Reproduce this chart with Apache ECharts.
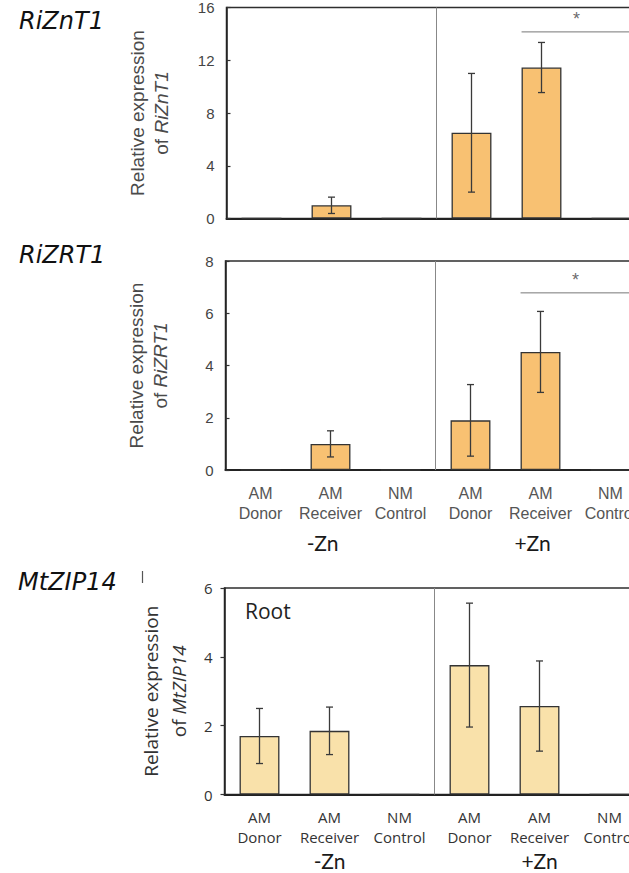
<!DOCTYPE html>
<html>
<head>
<meta charset="utf-8">
<script src="https://cdn.jsdelivr.net/npm/echarts@6/dist/echarts.min.js"></script>
<style>
  html, body { margin: 0; padding: 0; overflow: hidden; background: #fff; }
  #chart { width: 700px; height: 873px; }
</style>
</head>
<body>
<div id="chart"></div>
<script>
// Treatment categories (shared by all three panels)
const categories = ['AM\nDonor', 'AM\nReceiver', 'NM\nControl', 'AM\nDonor', 'AM\nReceiver', 'NM\nControl'];
const zincGroups = ['-Zn', '+Zn'];
const groupSize = 3;

// RiZnT1 relative expression (mean, SE)
const riZnT1Mean = [0, 1.0, 0, 6.5, 11.45, 0];
const riZnT1Err  = [null, 0.62, null, 4.5, 1.9, null];
const riZnT1Sig  = [4, 5, 14.15];      // from category, to category, bracket height

// RiZRT1 relative expression (mean, SE)
const riZRT1Mean = [0, 1.0, 0, 1.9, 4.52, 0];
const riZRT1Err  = [null, 0.5, null, 1.37, 1.55, null];
const riZRT1Sig  = [4, 5, 6.78];

// MtZIP14 relative expression in root (mean, SE)
const mtZIP14Mean = [1.7, 1.85, 0, 3.76, 2.57, 0];
const mtZIP14Err  = [0.8, 0.69, null, 1.8, 1.31, null];

// y-axis ranges
const yMax  = [16, 8, 6];
const yStep = [4, 2, 2];

const BAR_FRAC = 0.57;

const panels = [
  { gene: 'RiZnT1', mean: riZnT1Mean, err: riZnT1Err, sig: riZnT1Sig,
    grid: { left: 226.5, top: 7.5, width: 420, height: 211 },
    font: 'Liberation Sans', fill: '#F8C172', showCats: false, tickInside: true,
    nameGap: 53, nameLH: 24, nameSize: 19, nameColor: '#4a4a4a',
    tickColor: '#444', catColor: '#555', catSize: 16, catMargin: 13,
    groupMargin: 62, groupPad: [0, 16, 0, 0] },
  { gene: 'RiZRT1', mean: riZRT1Mean, err: riZRT1Err, sig: riZRT1Sig,
    grid: { left: 225.5, top: 261, width: 420, height: 209 },
    font: 'Liberation Sans', fill: '#F8C172', showCats: true, tickInside: true,
    nameGap: 53, nameLH: 24, nameSize: 19, nameColor: '#4a4a4a',
    tickColor: '#444', catColor: '#555', catSize: 16, catMargin: 13,
    groupMargin: 62, groupPad: [0, 16, 0, 0] },
  { gene: 'MtZIP14', mean: mtZIP14Mean, err: mtZIP14Err, sig: null,
    grid: { left: 224.5, top: 588, width: 420, height: 206.5 },
    font: 'Open Sans', fill: '#F9E1AA', showCats: true, tickInside: false,
    nameGap: 30, nameLH: 28, nameSize: 19, nameColor: '#333',
    tickColor: '#333', catColor: '#333', catSize: 15, catMargin: 12,
    groupMargin: 56, groupPad: [0, 0, 0, 0] }
];

const grid = [], xAxis = [], yAxis = [], series = [];

function errorBarItem(params, api) {
  const x = api.value(0);
  const top = api.coord([x, api.value(2)]);
  const bot = api.coord([x, api.value(1)]);
  const half = 3.5;
  const style = { stroke: '#3a3a3a', lineWidth: 1.3 };
  return {
    type: 'group',
    children: [
      { type: 'line', shape: { x1: top[0], y1: top[1], x2: bot[0], y2: bot[1] }, style: style },
      { type: 'line', shape: { x1: top[0] - half, y1: top[1], x2: top[0] + half, y2: top[1] }, style: style },
      { type: 'line', shape: { x1: bot[0] - half, y1: bot[1], x2: bot[0] + half, y2: bot[1] }, style: style }
    ]
  };
}

panels.forEach(function (p, k) {
  grid.push(Object.assign({ show: true, borderColor: '#2e2e2e', borderWidth: 1.5,
                            backgroundColor: 'transparent' }, p.grid));

  const catIdx = xAxis.length;
  xAxis.push({
    type: 'category', gridIndex: k, position: 'bottom', data: categories,
    axisLine: { show: true, onZero: false, lineStyle: { color: '#222', width: 2 } },
    axisTick: { show: false },
    axisLabel: { show: p.showCats, interval: 0, fontFamily: p.font, fontSize: p.catSize,
                 lineHeight: 20, color: p.catColor, margin: p.catMargin }
  });

  if (p.showCats) {
    xAxis.push({
      type: 'category', gridIndex: k, position: 'bottom', data: zincGroups,
      axisLine: { show: false, onZero: false }, axisTick: { show: false }, splitLine: { show: false },
      axisLabel: { interval: 0, fontFamily: 'Lato', fontSize: 21, lineHeight: 20, color: '#1a1a1a',
                   margin: p.groupMargin, padding: p.groupPad }
    });
  }

  const valIdx = xAxis.length;
  xAxis.push({
    type: 'value', gridIndex: k, position: 'top', show: false,
    axisLine: { onZero: false },
    min: -0.5, max: categories.length - 0.5
  });

  yAxis.push({
    type: 'value', gridIndex: k, min: 0, max: yMax[k], interval: yStep[k],
    splitLine: { show: false },
    axisLine: { show: true, onZero: false, lineStyle: { color: '#222', width: 1.5 } },
    axisTick: { show: true, inside: p.tickInside, length: 4, lineStyle: { color: '#333', width: 1.2 } },
    axisLabel: { fontFamily: p.font, fontSize: 15, color: p.tickColor, margin: 12 },
    name: 'Relative expression\nof {g|' + p.gene + '}',
    nameLocation: 'middle', nameGap: p.nameGap,
    nameTextStyle: {
      fontFamily: p.font, fontSize: p.nameSize, lineHeight: p.nameLH, color: p.nameColor,
      rich: { g: { fontFamily: p.font, fontStyle: 'italic', fontSize: p.nameSize,
                   lineHeight: p.nameLH, color: p.nameColor } }
    }
  });

  // bars
  series.push({
    type: 'bar', xAxisIndex: catIdx, yAxisIndex: k, data: p.mean,
    barWidth: (BAR_FRAC * 100) + '%',
    itemStyle: { color: p.fill, borderColor: '#333', borderWidth: 1.3 },
    z: 3
  });

  // divider between -Zn and +Zn groups
  series.push({
    type: 'line', xAxisIndex: valIdx, yAxisIndex: k, symbol: 'none', silent: true,
    data: [[groupSize - 0.5, 0], [groupSize - 0.5, yMax[k]]],
    lineStyle: { color: '#888', width: 1 }, z: 1
  });

  // error bars
  const errData = [];
  p.mean.forEach(function (m, i) {
    if (p.err[i] != null) errData.push([i, m - p.err[i], m + p.err[i]]);
  });
  series.push({
    type: 'custom', xAxisIndex: valIdx, yAxisIndex: k, renderItem: errorBarItem,
    data: errData, encode: { x: 0, y: [1, 2] }, z: 5, silent: true
  });

  // significance bracket with asterisk
  if (p.sig) {
    const from = p.sig[0], to = p.sig[1], h = p.sig[2];
    series.push({
      type: 'line', xAxisIndex: valIdx, yAxisIndex: k, symbol: 'none', silent: true,
      data: [[from - BAR_FRAC / 2, h], [to + BAR_FRAC / 2, h]],
      lineStyle: { color: '#777', width: 1 }, z: 4
    });
    series.push({
      type: 'scatter', xAxisIndex: valIdx, yAxisIndex: k, silent: true,
      data: [[(from + to) / 2, h]], symbolSize: 2, itemStyle: { color: 'rgba(0,0,0,0)' },
      label: { show: true, position: 'top', distance: 3, formatter: '*',
               fontFamily: 'Liberation Sans', fontSize: 18, color: '#444' }
    });
  }
});

const titleFont = 'italic 24px "DejaVu Sans"';
const graphic = [
  { type: 'text', left: 19, top: 9, style: { text: 'RiZnT1', font: titleFont, fill: '#111' } },
  { type: 'text', left: 19, top: 243, style: { text: 'RiZRT1', font: titleFont, fill: '#111' } },
  { type: 'text', left: 18, top: 570, style: { text: 'MtZIP14', font: titleFont, fill: '#111' } },
  { type: 'line', shape: { x1: 142.5, y1: 571, x2: 142.5, y2: 583 }, style: { stroke: '#555', lineWidth: 1.2 } },
  { type: 'text', left: 245, top: 600, style: { text: 'Root', font: '21px "Open Sans"', fill: '#222' } }
];

const chart = echarts.init(document.getElementById('chart'), null, { renderer: 'svg' });
chart.setOption({
  animation: false,
  backgroundColor: '#fff',
  grid: grid, xAxis: xAxis, yAxis: yAxis, series: series, graphic: graphic
});
</script>
</body>
</html>
